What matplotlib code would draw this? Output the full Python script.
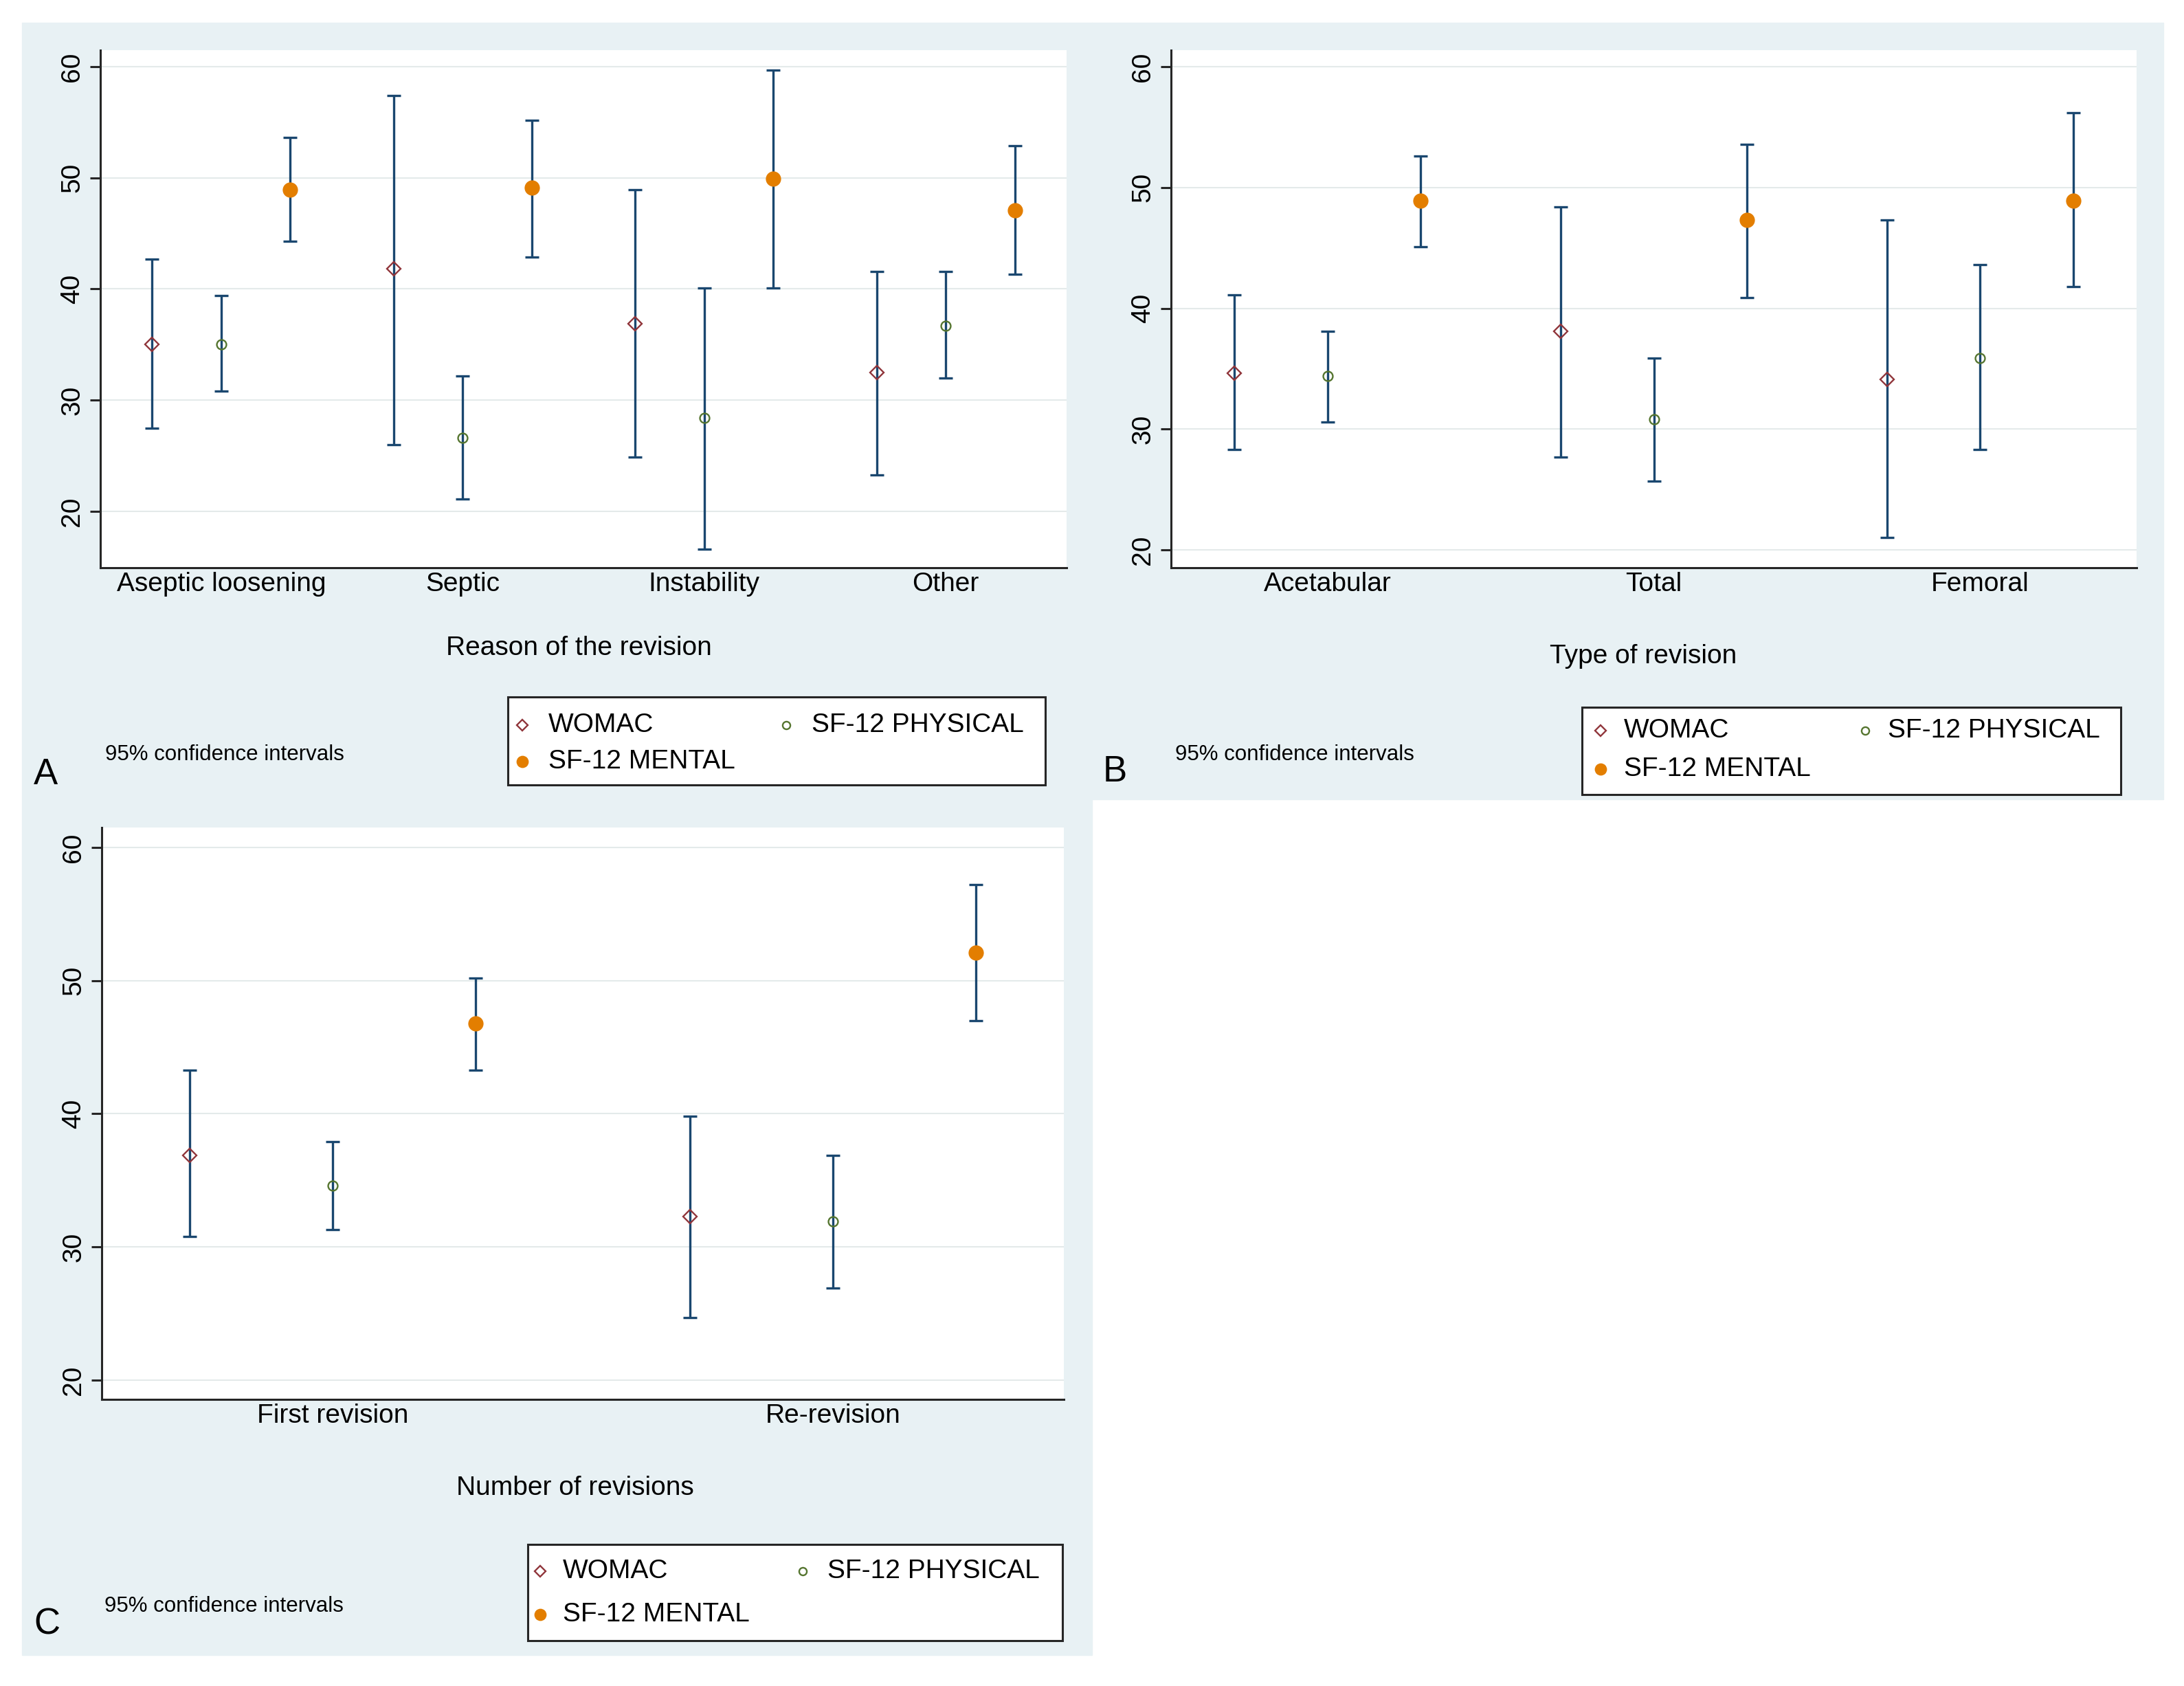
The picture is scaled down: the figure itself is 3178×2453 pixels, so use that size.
import matplotlib
matplotlib.use('Agg')
import matplotlib.pyplot as plt
from matplotlib.patches import Rectangle
from matplotlib.lines import Line2D

plt.rcParams['font.family'] = ['Liberation Sans', 'DejaVu Sans']

# ---- data ----
series = ['WOMAC', 'SF-12 PHYSICAL', 'SF-12 MENTAL']

reasons = ['Aseptic loosening', 'Septic', 'Instability', 'Other']
a_womac = [35.0, 41.8, 36.9, 32.5]
a_womac_lo = [27.5, 26.0, 24.9, 23.3]
a_womac_hi = [42.7, 57.4, 48.9, 41.6]
a_phys = [35.0, 26.6, 28.4, 36.7]
a_phys_lo = [30.8, 21.1, 16.6, 32.0]
a_phys_hi = [39.4, 32.2, 40.1, 41.6]
a_ment = [48.9, 49.1, 49.9, 47.1]
a_ment_lo = [44.3, 42.9, 40.1, 41.3]
a_ment_hi = [53.6, 55.2, 59.7, 52.9]

types = ['Acetabular', 'Total', 'Femoral']
b_womac = [34.6, 38.1, 34.1]
b_womac_lo = [28.3, 27.7, 21.0]
b_womac_hi = [41.1, 48.4, 47.3]
b_phys = [34.4, 30.8, 35.9]
b_phys_lo = [30.6, 25.7, 28.3]
b_phys_hi = [38.1, 35.9, 43.6]
b_ment = [48.9, 47.3, 48.9]
b_ment_lo = [45.1, 40.9, 41.8]
b_ment_hi = [52.6, 53.6, 56.2]

numbers = ['First revision', 'Re-revision']
c_womac = [36.9, 32.3]
c_womac_lo = [30.8, 24.7]
c_womac_hi = [43.3, 39.8]
c_phys = [34.6, 31.9]
c_phys_lo = [31.3, 26.9]
c_phys_hi = [37.9, 36.9]
c_ment = [46.8, 52.1]
c_ment_lo = [43.3, 47.0]
c_ment_hi = [50.2, 57.2]

yticks = [20, 30, 40, 50, 60]

# ---- style ----
W, H = 3178, 2453
bg = '#E8F1F4'
navy = '#1A476F'
maroon = '#90353B'
green = '#55752F'
orange = '#E37E00'
dark = '#262626'
grid_c = '#E4EAEA'

styles = [
    dict(marker='D', ms=10.5, mfc='none', mec=maroon, mew=1.7),
    dict(marker='o', ms=10, mfc='none', mec=green, mew=1.7),
    dict(marker='o', ms=16, mfc=orange, mec=orange, mew=0),
]


def fx(px):
    return px / W


def fy(py):
    return 1 - py / H


def panel(ax, cats, data, ylim, xpad):
    n = len(cats)
    centers = [i * 3.5 for i in range(n)]
    for k, (m, lo, hi) in enumerate(data):
        xs = [c + (k - 1) for c in centers]
        err = [[m[i] - lo[i] for i in range(n)], [hi[i] - m[i] for i in range(n)]]
        ax.errorbar(xs, m, yerr=err, fmt='none', ecolor=navy, elinewidth=2.4,
                    capsize=7, capthick=2.4, zorder=2)
        ax.plot(xs, m, ls='none', zorder=3, **styles[k])
    ax.set_xlim(centers[0] - 1 - xpad, centers[-1] + 1 + xpad)
    ax.set_ylim(*ylim)
    ax.set_xticks(centers)
    ax.set_xticklabels(cats)
    ax.set_yticks(yticks)
    ax.set_facecolor('white')
    ax.grid(axis='y', color=grid_c, lw=1.5, zorder=0)
    ax.set_axisbelow(True)
    for s in ['top', 'right']:
        ax.spines[s].set_visible(False)
    for s in ['left', 'bottom']:
        ax.spines[s].set_color(dark)
        ax.spines[s].set_linewidth(2.2)
    ax.tick_params(axis='x', length=0, pad=4, labelsize=28)
    ax.tick_params(axis='y', length=10.5, width=2.2, color=dark, pad=6,
                   labelsize=28, labelrotation=90)
    for lab in ax.get_yticklabels():
        lab.set_va('center')


def legend_box(fig, left, top, right, bottom, row1, row2, mx, tx, mx2, tx2):
    fig.patches.append(Rectangle((fx(left), fy(bottom)), fx(right) - fx(left),
                                 fy(top) - fy(bottom), transform=fig.transFigure,
                                 facecolor='white', edgecolor=dark, lw=2.2, zorder=2))
    spots = [(mx, tx, row1), (mx2, tx2, row1), (mx, tx, row2)]
    for k, (m, t, r) in enumerate(spots):
        st = dict(styles[k])
        st['ms'] = st['ms'] * 0.8
        fig.add_artist(Line2D([fx(m)], [fy(r)], transform=fig.transFigure,
                              ls='none', zorder=3, **st))
        fig.text(fx(t), fy(r), series[k], fontsize=28, ha='left', va='center', zorder=3)


fig = plt.figure(figsize=(W / 100, H / 100), dpi=100)

# panel backgrounds
fig.patches.append(Rectangle((fx(32), fy(2408)), fx(1589) - fx(32), fy(33) - fy(2408),
                             transform=fig.transFigure, color=bg, zorder=-5))
fig.patches.append(Rectangle((fx(1589), fy(1163)), fx(3148) - fx(1589), fy(33) - fy(1163),
                             transform=fig.transFigure, color=bg, zorder=-5))

axA = fig.add_axes([fx(146), fy(826), fx(1552) - fx(146), fy(73) - fy(826)])
panel(axA, reasons, [(a_womac, a_womac_lo, a_womac_hi),
                     (a_phys, a_phys_lo, a_phys_hi),
                     (a_ment, a_ment_lo, a_ment_hi)], (14.93, 61.48), 0.75)

axB = fig.add_axes([fx(1704), fy(826), fx(3109) - fx(1704), fy(73) - fy(826)])
panel(axB, types, [(b_womac, b_womac_lo, b_womac_hi),
                   (b_phys, b_phys_lo, b_phys_hi),
                   (b_ment, b_ment_lo, b_ment_hi)], (18.52, 61.37), 0.68)

axC = fig.add_axes([fx(148), fy(2036), fx(1548) - fx(148), fy(1204) - fy(2036)])
panel(axC, numbers, [(c_womac, c_womac_lo, c_womac_hi),
                     (c_phys, c_phys_lo, c_phys_hi),
                     (c_ment, c_ment_lo, c_ment_hi)], (18.55, 61.5), 0.615)

# axis titles
fig.text(fx(842), fy(943), 'Reason of the revision', fontsize=28, ha='center', va='center')
fig.text(fx(2391), fy(955), 'Type of revision', fontsize=28, ha='center', va='center')
fig.text(fx(837), fy(2165), 'Number of revisions', fontsize=28, ha='center', va='center')

# notes and panel letters
for x, y in [(153, 1098), (1710, 1098), (152, 2337)]:
    fig.text(fx(x), fy(y), '95% confidence intervals', fontsize=22.5, ha='left', va='center')
for x, y, s in [(49, 1127, 'A'), (1605, 1123, 'B'), (49, 2363, 'C')]:
    fig.text(fx(x), fy(y), s, fontsize=38, ha='left', va='center')

# legends
legend_box(fig, 739, 1014, 1521, 1142, 1055, 1108, 760, 798, 1144, 1181)
legend_box(fig, 2302, 1029, 3086, 1156, 1063, 1119, 2329, 2363, 2714, 2747)
legend_box(fig, 768, 2247, 1546, 2387, 2286, 2349, 786, 819, 1168, 1204)

fig.savefig('out.png', dpi=100, facecolor='white')
